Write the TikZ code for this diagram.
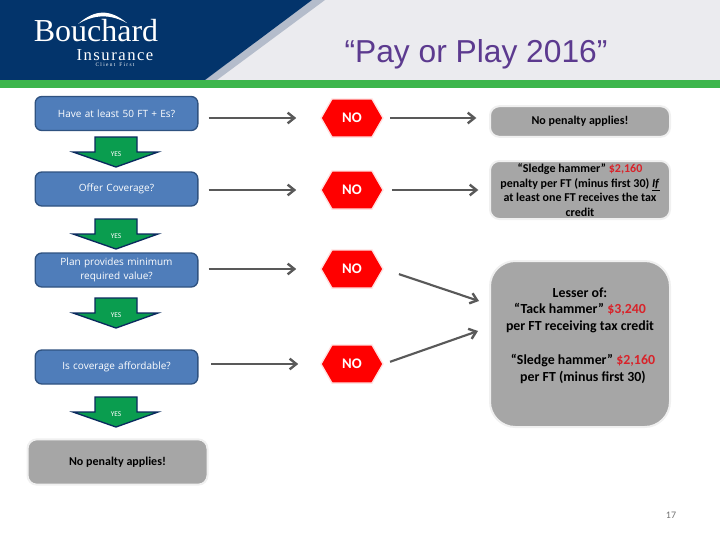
\documentclass[tikz,border=0pt]{standalone}
\usepackage{fontspec}
\setmainfont{Liberation Sans}
\newfontfamily\bodyfont{Carlito}
\newfontfamily\askfont{Open Sans}
\newfontfamily\logofont{Liberation Serif}
\newfontfamily\spacedfont[LetterSpace=9]{Liberation Serif}
\usetikzlibrary{arrows.meta,shapes.symbols}
\definecolor{cnavy}{HTML}{03346b}
\definecolor{cstripe}{HTML}{b4bccb}
\definecolor{cback}{HTML}{ebebef}
\definecolor{cgreen}{HTML}{3db54c}
\definecolor{cpurple}{HTML}{5c3a8f}
\definecolor{cblue}{HTML}{4f7dba}
\definecolor{cedge}{HTML}{2f5280}
\definecolor{cgray}{HTML}{a6a6a6}
\definecolor{cline}{HTML}{595959}
\definecolor{cyes}{HTML}{0a9d4f}
\definecolor{cdeep}{HTML}{0a2a5e}
\definecolor{cred}{HTML}{d8232a}
\tikzset{
  askbox/.style={draw=cedge, line width=1pt, fill=cblue, rounded corners=5pt, minimum width=122pt, minimum height=25.5pt,
    inner sep=0pt, text width=118pt, align=center, text=white, font=\askfont\fontsize{7.5}{10.5}\selectfont},
  penaltybox/.style={draw=black!6, line width=1.5pt, fill=cgray, rounded corners=7pt, inner sep=0pt, align=center,
    font=\bodyfont\bfseries\fontsize{9}{10.9}\selectfont},
  noticetext/.style={inner sep=0pt, align=center, font=\bodyfont\bfseries\fontsize{10.4}{12.4}\selectfont},
  nohex/.style={shape=signal, signal to=west and east, signal pointer angle=120, fill=red, draw=red!12, line width=1pt,
    minimum width=46.5pt, minimum height=28.5pt, inner sep=0pt, text=white, font=\bodyfont\bfseries\fontsize{11}{12}\selectfont},
  flowarrow/.style={draw=cline, line width=1.6pt, -{Straight Barb[length=5pt,width=8pt,line width=1.8pt]}},
  yesarrow/.style={draw=cdeep, line width=1pt, fill=cyes, line join=miter},
  yeslabel/.style={inner sep=0pt, text=white, font=\bodyfont\fontsize{5.5}{6}\selectfont},
}
\begin{document}
\begin{tikzpicture}[x=0.75pt, y=-0.75pt]
  \useasboundingbox (0,0) rectangle (720,540);
  % ---------- header ----------
  \fill[cback] (200,0) rectangle (720,80);
  \fill[cstripe] (312,0) -- (325,0) -- (217,80) -- (205,80) -- cycle;
  \fill[cnavy] (0,0) -- (312,0) -- (205,80) -- (0,80) -- cycle;
  \fill[cgreen] (0,80) rectangle (720,88);
  \node[inner sep=0pt, text=cpurple, font=\fontsize{23.8}{26}\selectfont] (title) at (476,54) {“Pay or Play 2016”};
  \node[inner sep=0pt, text=white, font=\logofont\fontsize{24}{25}\selectfont] (brand) at (96,31) {Bouchard};
  \node[inner sep=0pt, text=white, font=\spacedfont\fontsize{12.5}{13}\selectfont] (insurer) at (115,55) {Insurance};
  \node[inner sep=0pt, text=white, font=\logofont\fontsize{4}{5}\selectfont] (motto) at (115,65) {C l i e n t \ \ F i r s t};
  \fill[white] (78,24) .. controls (95,9) and (110,9) .. (127,23) .. controls (110,14) and (95,14) .. (78,24) -- cycle;

  % ---------- questions ----------
  \node[askbox] (ask1) at (116.5,113.5) {Have at least 50 FT + Es?};
  \node[askbox] (ask2) at (116.5,189) {Offer Coverage?};
  \node[askbox] (ask3) at (116.5,270) {Plan provides minimum\\required value?};
  \node[askbox] (ask4) at (116.5,367) {Is coverage affordable?};
  \node[penaltybox, minimum width=135pt, minimum height=34pt] (endbox) at (117.5,462) {No penalty applies!};

  \foreach \y in {137,219,298,397} {
    \draw[yesarrow] (95,\y) -- (137,\y) -- (137,\y+15) -- (158,\y+15) -- (116,\y+30) -- (73,\y+15) -- (95,\y+15) -- cycle;
    \node[yeslabel] (yes\y) at (116,\y+17) {YES};
  }

  % ---------- outcomes ----------
  \node[nohex] (no1) at (352,118) {NO};
  \node[nohex] (no2) at (352,190) {NO};
  \node[nohex] (no3) at (352,269) {NO};
  \node[nohex] (no4) at (352,364) {NO};

  \node[penaltybox, minimum width=135pt, minimum height=23pt] (pen1) at (580,121.5) {No penalty applies!};
  \node[penaltybox, minimum width=135pt, minimum height=43.5pt] (pen2) at (580,190) {“Sledge hammer” \textcolor{cred}{\$2,160}\\penalty per FT (minus first 30) \underline{\textit{If}}\\at least one FT receives the tax\\credit};
  \node[penaltybox, rounded corners=19pt, minimum width=135pt, minimum height=124.5pt] (pen3) at (580,344) {};
  \node[noticetext] (lesser) at (580,310) {Lesser of:\\“Tack hammer” \textcolor{cred}{\$3,240}\\per FT receiving tax credit};
  \node[noticetext] (sledge) at (583,369) {“Sledge hammer” \textcolor{cred}{\$2,160}\\per FT (minus first 30)};

  \node[inner sep=0pt, text=black!55, font=\bodyfont\fontsize{7.5}{9}\selectfont] (pageno) at (671,515) {17};

  % ---------- connectors ----------
  \draw[flowarrow, shorten <=7.5pt, shorten >=18pt] (ask1.east |- no1.west) -- (no1.west);
  \draw[flowarrow, shorten <=7.5pt, shorten >=18pt] (ask2.east |- no2.west) -- (no2.west);
  \draw[flowarrow, shorten <=7.5pt, shorten >=18pt] (ask3.east |- no3.west) -- (no3.west);
  \draw[flowarrow, shorten <=9.5pt, shorten >=16.5pt] (ask4.east |- no4.west) -- (no4.west);
  \draw[flowarrow, shorten <=5pt, shorten >=9.5pt] (no1.east) -- (pen1.west |- no1.east);
  \draw[flowarrow, shorten <=6pt, shorten >=8pt] (no2.east) -- (pen2.west);
  \coordinate (tip3) at (479,301);
  \coordinate (tip4) at (478,331);
  \draw[flowarrow, shorten <=12pt] (no3.east) -- (tip3);
  \draw[flowarrow, shorten <=5pt] (no4.east) -- (tip4);
\end{tikzpicture}
\end{document}
